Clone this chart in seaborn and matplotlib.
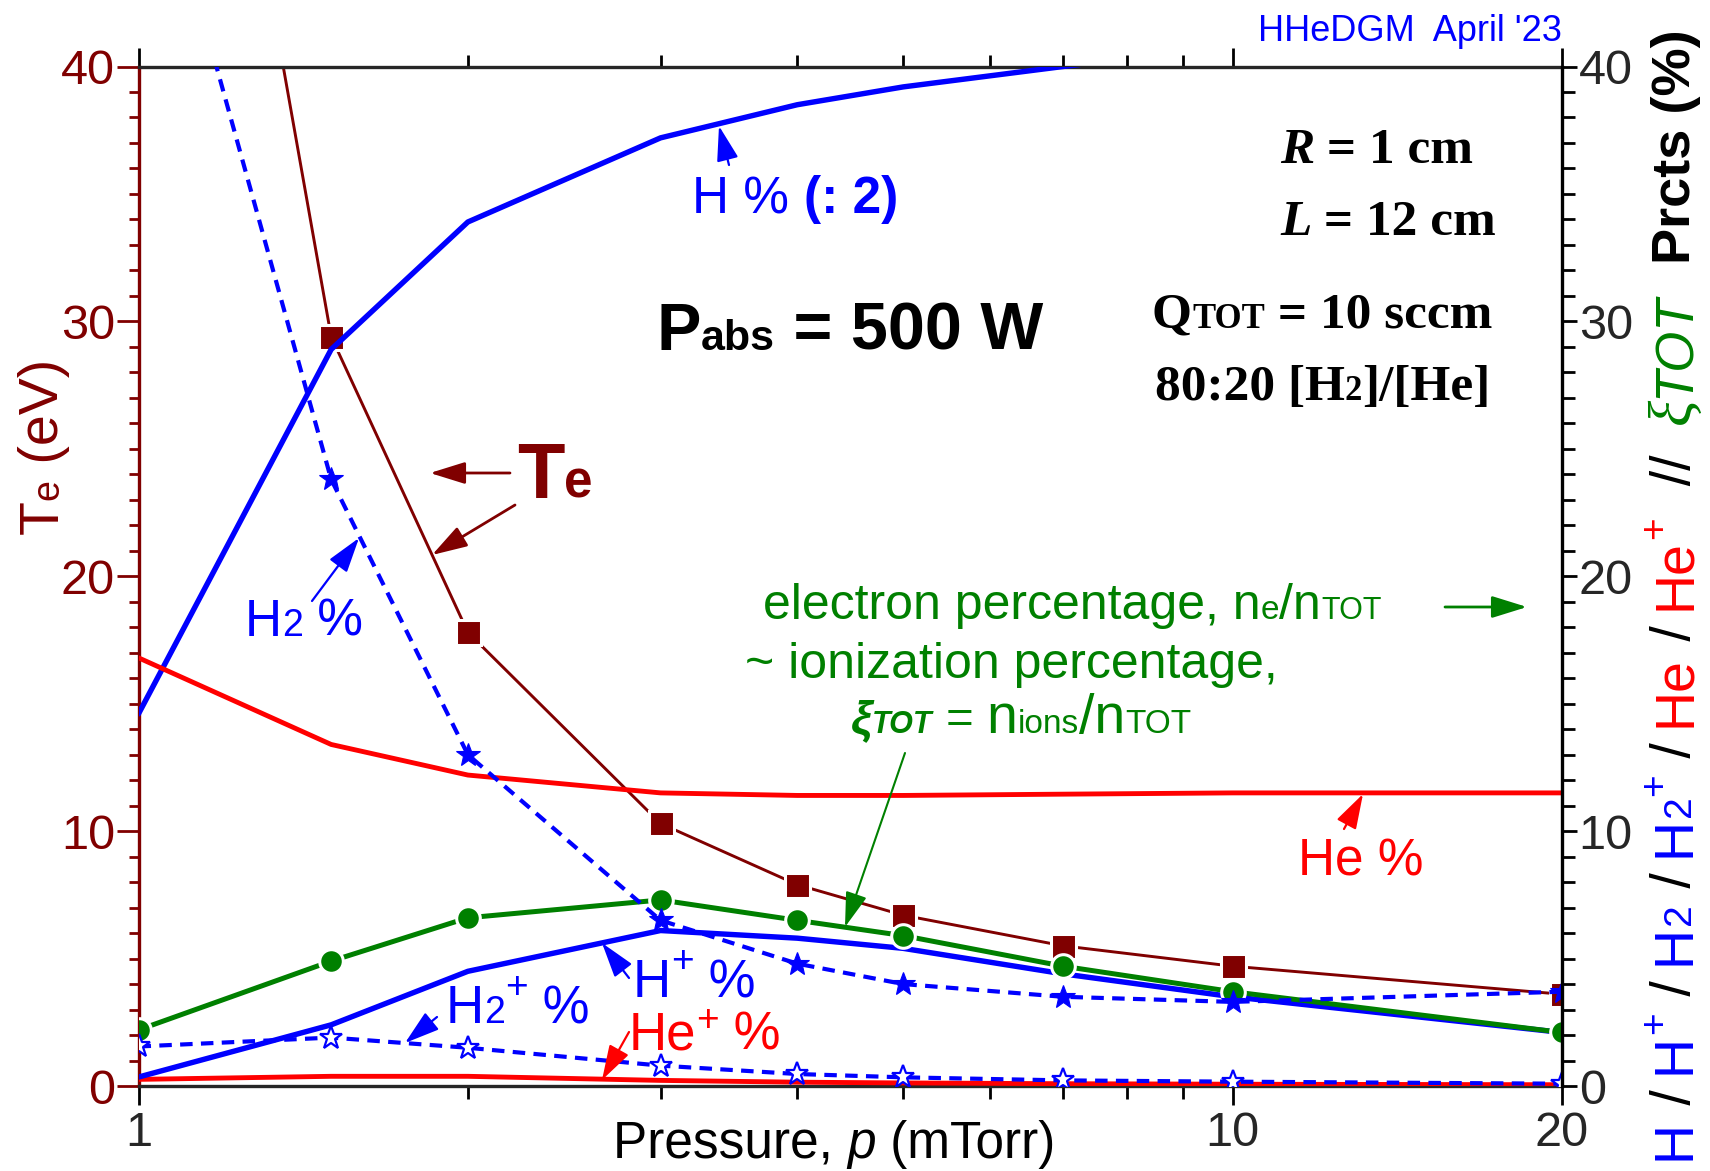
import numpy as np
import pandas as pd
import seaborn as sns
import matplotlib.pyplot as plt
from matplotlib.ticker import FixedLocator, FixedFormatter, MultipleLocator, NullFormatter
from matplotlib.transforms import IdentityTransform

# data (pressure in mTorr)
pressure = [1, 1.5, 2, 3, 4, 5, 7, 10, 20]
te_ev = [72.0, 29.4, 17.8, 10.3, 7.9, 6.7, 5.5, 4.7, 3.6]
h_pct_half = [14.6, 28.9, 33.9, 37.2, 38.5, 39.2, 40.0, 40.8, 42.0]
h2_pct = [51.0, 23.8, 13.0, 6.5, 4.8, 4.0, 3.5, 3.3, 3.7]
he_pct = [16.8, 13.4, 12.2, 11.5, 11.4, 11.4, 11.45, 11.5, 11.5]
elec_pct = [2.2, 4.9, 6.6, 7.3, 6.5, 5.9, 4.7, 3.7, 2.1]
hp_pct = [0.35, 2.4, 4.5, 6.1, 5.8, 5.4, 4.4, 3.5, 2.1]
h2p_pct = [1.55, 1.9, 1.5, 0.8, 0.47, 0.34, 0.22, 0.17, 0.09]
hep_pct = [0.26, 0.38, 0.38, 0.22, 0.15, 0.12, 0.09, 0.07, 0.05]

y_ticks = [0, 10, 20, 30, 40]
x_major = [1, 10, 20]
x_labels = ['1', '10', '20']
x_minor = [2, 3, 4, 5, 6, 7, 8, 9]

MAROON = '#800000'
BLUE = '#0000ff'
RED = '#ff0000'
GREEN = '#008000'
SANS = 'Liberation Sans'
SERIF = 'Liberation Serif'

sns.set_theme(style='ticks')
plt.rcParams['font.family'] = [SANS, 'DejaVu Sans']
plt.rcParams['axes.linewidth'] = 2.4

W, H = 1710, 1171
fig = plt.figure(figsize=(W / 100, H / 100), dpi=100)
ax = fig.add_axes([138.5 / W, 1 - 1086 / H, (1562 - 138.5) / W, (1086 - 66.5) / H])
ax2 = ax.twinx()

# Te on the left axis
sns.lineplot(x=pressure, y=te_ev, ax=ax, color=MAROON, linewidth=2.1, marker='s', markersize=18,
             markeredgecolor='white', markeredgewidth=2.2, sort=False, estimator=None, legend=False)

# percentages on the right axis
dash = (0, (3, 2))
sns.lineplot(x=pressure, y=h_pct_half, ax=ax2, color=BLUE, linewidth=3.9, sort=False, estimator=None)
sns.lineplot(x=pressure, y=he_pct, ax=ax2, color=RED, linewidth=3.5, sort=False, estimator=None)
sns.lineplot(x=pressure, y=hep_pct, ax=ax2, color=RED, linewidth=3.5, sort=False, estimator=None)
sns.lineplot(x=pressure, y=hp_pct, ax=ax2, color=BLUE, linewidth=3.9, sort=False, estimator=None)
sns.lineplot(x=pressure, y=elec_pct, ax=ax2, color=GREEN, linewidth=3.6, marker='o', markersize=17,
             markeredgecolor='white', markeredgewidth=2.2, sort=False, estimator=None)
sns.lineplot(x=pressure, y=h2_pct, ax=ax2, color=BLUE, linewidth=3.0, linestyle=dash,
             marker='*', markersize=18, markeredgecolor=BLUE, markeredgewidth=0.8,
             sort=False, estimator=None)
sns.lineplot(x=pressure, y=h2p_pct, ax=ax2, color=BLUE, linewidth=3.0, linestyle=dash,
             marker='*', markersize=17, markerfacecolor='white', markeredgecolor=BLUE,
             markeredgewidth=1.6, sort=False, estimator=None)

# make sure the requested widths stick
for ln in ax.lines:
    ln.set_linewidth(2.1)
for ln, lw in zip(ax2.lines, [3.9, 3.5, 3.5, 3.9, 3.6, 3.0, 3.0]):
    ln.set_linewidth(lw)

for a in (ax, ax2):
    a.set_xscale('log')
    a.set_xlim(1, 20)
    a.set_ylim(0, 40)
    a.set_ylabel('')
    a.set_xlabel('')

ax.xaxis.set_major_locator(FixedLocator(x_major))
ax.xaxis.set_major_formatter(FixedFormatter(x_labels))
ax.xaxis.set_minor_locator(FixedLocator(x_minor))
ax.xaxis.set_minor_formatter(NullFormatter())
ax.tick_params(axis='x', which='both', top=True, direction='out', width=2,
               labelsize=35, pad=4, color='black')
ax.tick_params(axis='x', which='major', length=14)
ax.tick_params(axis='x', which='minor', length=9)

for a in (ax, ax2):
    a.yaxis.set_major_locator(FixedLocator(y_ticks))
    a.yaxis.set_minor_locator(MultipleLocator(1))
ax.tick_params(axis='y', which='both', direction='out', width=2, color=MAROON,
               labelcolor=MAROON, labelsize=35, pad=1)
ax.tick_params(axis='y', which='major', length=16)
ax.tick_params(axis='y', which='minor', length=7)
ax2.tick_params(axis='y', which='both', direction='out', width=2, color='black',
                labelsize=35, pad=1)
ax2.tick_params(axis='y', which='major', length=11)
ax2.tick_params(axis='y', which='minor', length=9)

ax.spines['left'].set_color(MAROON)
ax.spines['right'].set_visible(False)
for s in ('left', 'top', 'bottom'):
    ax2.spines[s].set_visible(False)
ax2.spines['right'].set_color('black')

renderer = fig.canvas.get_renderer()


def advance(s, fp):
    t1 = fig.text(0, 0, '|' + s + '|', **fp)
    t2 = fig.text(0, 0, '||', **fp)
    w = t1.get_window_extent(renderer).width - t2.get_window_extent(renderer).width
    t1.remove()
    t2.remove()
    return w


def rich(x, y, parts, ha='left', rot=0, color='black'):
    # x, y: figure pixels (top-left origin for y) of the baseline anchor
    y = H - y
    items = []
    for p in parts:
        s, size = p[0], p[1]
        o = p[2] if len(p) > 2 else {}
        fp = dict(fontsize=size, fontweight=o.get('weight', 'normal'),
                  fontstyle=o.get('style', 'normal'), family=o.get('family', SANS))
        items.append((s, fp, o.get('color', color), o.get('rise', 0), advance(s, fp)))
    total = sum(i[-1] for i in items)
    pos = {'left': 0, 'center': -total / 2, 'right': -total}[ha]
    for s, fp, c, rise, w in items:
        r = rise * fig.dpi / 72
        if rot == 0:
            xx, yy = x + pos, y + r
        else:
            xx, yy = x - r, y + pos
        fig.text(xx, yy, s, transform=IdentityTransform(), color=c, rotation=rot,
                 rotation_mode='anchor', ha='left', va='baseline', **fp)
        pos += w


def arrow(tail, tip, color, lw=1.6, scale=24):
    ax2.annotate('', xy=(tip[0], H - tip[1]), xytext=(tail[0], H - tail[1]),
                 xycoords='figure pixels', textcoords='figure pixels',
                 arrowprops=dict(arrowstyle='-|>,head_length=0.9,head_width=0.28',
                                 color=color, lw=lw, shrinkA=0, shrinkB=0,
                                 mutation_scale=scale))


# axis labels
rich(58, 534, [('T', 40), ('e', 27), (' (eV)', 40)], rot=90, color=MAROON)
rich(834, 1158, [('Pressure, ', 37), ('p', 37, {'style': 'italic'}), (' (mTorr)', 37)], ha='center')

sl = ' / '
rich(1690, 1160, [
    ('H', 40, {'color': BLUE}), (sl, 40),
    ('H', 40, {'color': BLUE}), ('+', 28, {'color': BLUE, 'rise': 18}), (sl, 40),
    ('H', 40, {'color': BLUE}), ('2', 28, {'color': BLUE}), (sl, 40),
    ('H', 40, {'color': BLUE}), ('2', 28, {'color': BLUE}), ('+', 28, {'color': BLUE, 'rise': 18}), (sl, 40),
    ('He', 40, {'color': RED}), (sl, 40),
    ('He', 40, {'color': RED}), ('+', 28, {'color': RED, 'rise': 18}), ('  //  ', 40),
    ('\u03be', 44, {'color': GREEN, 'style': 'italic', 'family': SERIF}),
    ('TOT', 38, {'color': GREEN, 'style': 'italic'}), ('  ', 38),
    ('Prcts (%)', 39, {'weight': 'bold'}),
], rot=90)

# header
rich(1562, 41, [("HHeDGM  April '23", 26)], ha='right', color=BLUE)

# condition texts
rich(850, 350, [('P', 48, {'weight': 'bold'}), ('abs', 31, {'weight': 'bold'}),
                (' = 500 W', 48, {'weight': 'bold'})], ha='center')
bs = {'family': SERIF, 'weight': 'bold'}
bi = {'family': SERIF, 'weight': 'bold', 'style': 'italic'}
rich(1280, 163, [('R', 37, bi), (' = 1 cm', 37, bs)])
rich(1280, 235, [('L', 37, bi), (' = 12 cm', 37, bs)])
rich(1152, 328, [('Q', 37, bs), ('TOT', 25, bs), (' = 10 sccm', 37, bs)])
rich(1155, 400, [('80:20 [H', 37, bs), ('2', 25, bs), (']/[He]', 37, bs)])

# Te annotation
rich(517, 498, [('T', 56, {'weight': 'bold'}), ('e', 37, {'weight': 'bold'})], color=MAROON)
arrow((510, 473), (430, 473), MAROON, lw=2)
arrow((515, 505), (432, 555), MAROON, lw=2)

# H % (: 2)
rich(795, 213, [('H % ', 37), ('(: 2)', 37, {'weight': 'bold'})], ha='center', color=BLUE)
arrow((729, 165), (719, 126), BLUE)

# H2 %
rich(245, 636, [('H', 37), ('2', 27), (' %', 37)], color=BLUE)
arrow((312, 601), (359, 538), BLUE)

# electron / ionization percentage
rich(763, 619, [('electron percentage, n', 36), ('e', 24), ('/n', 36), ('TOT', 22)], color=GREEN)
arrow((1445, 607), (1527, 607), GREEN, lw=2)
rich(745, 678, [('~ ionization percentage,', 36)], color=GREEN)
rich(851, 733, [('\u03be', 34, {'weight': 'bold', 'style': 'italic'}),
                ('TOT', 22, {'weight': 'bold', 'style': 'italic'}),
                (' = ', 34), ('n', 40), ('ions', 24), ('/n', 40), ('TOT', 24)], color=GREEN)
arrow((905, 753), (845, 927), GREEN, lw=1.5)

# He %
rich(1298, 876, [('He %', 37)], color=RED)
arrow((1344, 829), (1363, 794), RED)

# ions
rich(633, 997, [('H', 38), ('+', 28, {'rise': 18}), (' %', 38)], color=BLUE)
arrow((629, 978), (602, 943), BLUE)
rich(446, 1023, [('H', 38), ('2', 27), ('+', 28, {'rise': 18}), (' %', 38)], color=BLUE)
arrow((437, 1017), (405, 1043), BLUE)
rich(629, 1050, [('He', 38), ('+', 28, {'rise': 14}), (' %', 38)], color=RED)
arrow((629, 1032), (602, 1080), RED)

fig.savefig('out.png', dpi=100)
